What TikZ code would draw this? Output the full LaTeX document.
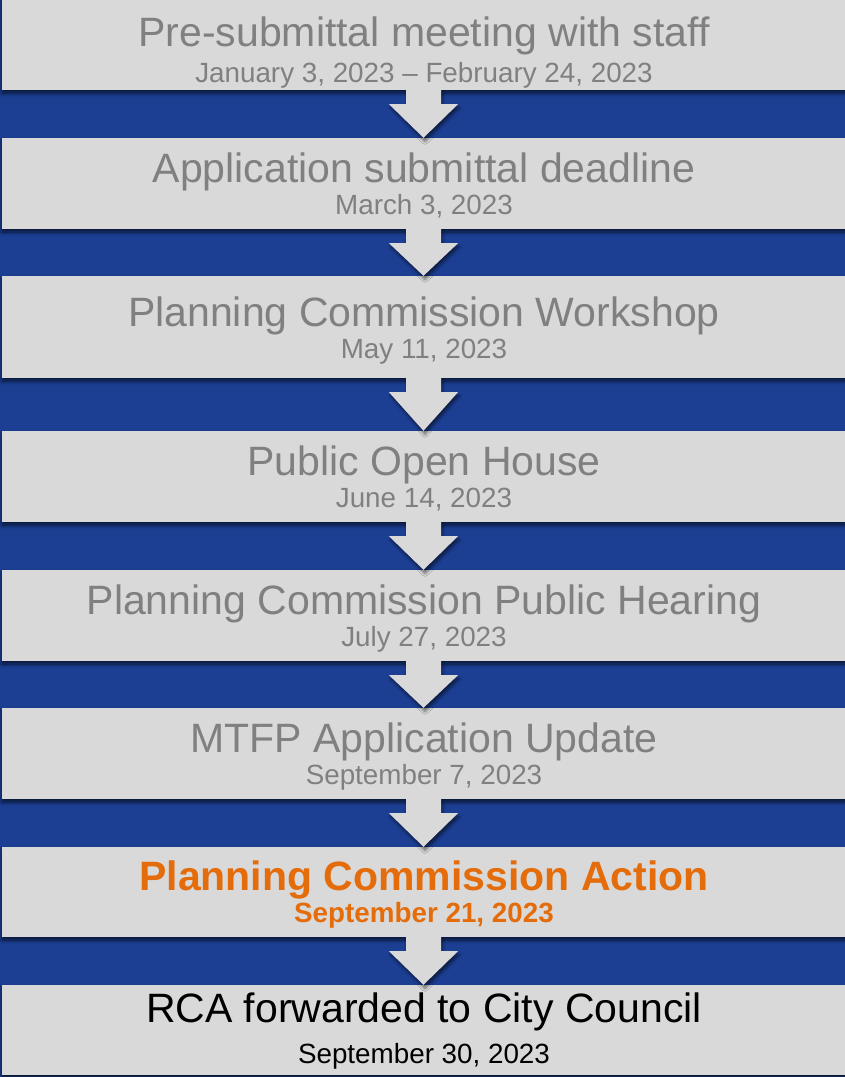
\documentclass[tikz,border=0pt]{standalone}
\usepackage{fontspec}
\setmainfont{Liberation Sans}
\usetikzlibrary{calc,shadows.blur}
\definecolor{bgblue}{RGB}{28,63,148}
\definecolor{boxgrey}{RGB}{217,217,217}
\definecolor{txtgrey}{RGB}{128,128,128}
\definecolor{actorange}{RGB}{228,108,10}
\newcommand{\flowarrow}[2]{%
  \fill[flow] ($(#1.south)+(-18.5,-0.5)$) -- ($(#1.south)+(16.5,-0.5)$) -- ($(#1.south)+(16.5,14)$) -- ($(#1.south)+(33.5,14)$) -- ($(#2.north)+(-1,0)$) -- ($(#1.south)+(-35.5,14)$) -- ($(#1.south)+(-18.5,14)$) -- cycle;}
\begin{document}
\begin{tikzpicture}[x=1pt,y=-1pt,
  stepbox/.style={rectangle, fill=boxgrey, draw=none, minimum width=845pt, inner sep=0pt,
    blur shadow={shadow xshift=0pt, shadow yshift=-3pt, shadow blur radius=4pt, shadow blur steps=6, shadow opacity=70}},
  flow/.style={fill=boxgrey, draw=none,
    blur shadow={shadow xshift=1.5pt, shadow yshift=-3.5pt, shadow blur radius=3pt, shadow blur steps=5, shadow opacity=55}},
  ttl/.style={anchor=base, inner sep=0pt, text=txtgrey, font=\fontsize{41}{41}\selectfont},
  dt/.style={anchor=base, inner sep=0pt, text=txtgrey, font=\fontsize{27.8}{28}\selectfont}]
\useasboundingbox (0,0) rectangle (845,1077);
\fill[bgblue] (0,0) rectangle (845,1077);
\clip (0,0) rectangle (845,1077);
% boxes
\node[stepbox, minimum height=95pt] (b1) at (424.5,42.5) {};
\node[stepbox, minimum height=91pt] (b2) at (424.5,183.5) {};
\node[stepbox, minimum height=102pt] (b3) at (424.5,327) {};
\node[stepbox, minimum height=91pt] (b4) at (424.5,476.5) {};
\node[stepbox, minimum height=91pt] (b5) at (424.5,615.5) {};
\node[stepbox, minimum height=91pt] (b6) at (424.5,753.5) {};
\node[stepbox, minimum height=90pt] (b7) at (424.5,892) {};
\node[stepbox, minimum height=90pt] (b8) at (424.5,1030) {};
% arrows
\flowarrow{b1}{b2}
\flowarrow{b2}{b3}
\flowarrow{b3}{b4}
\flowarrow{b4}{b5}
\flowarrow{b5}{b6}
\flowarrow{b6}{b7}
\flowarrow{b7}{b8}
% texts
\node[ttl] (t1) at (424,46) {Pre-submittal meeting with staff};
\node[dt] (d1) at (424,82) {January 3, 2023 -- February 24, 2023};
\node[ttl] (t2) at (424,182) {Application submittal deadline};
\node[dt] (d2) at (424,214) {March 3, 2023};
\node[ttl] (t3) at (424,326) {Planning Commission Workshop};
\node[dt] (d3) at (424,358) {May 11, 2023};
\node[ttl] (t4) at (424,475) {Public Open House};
\node[dt] (d4) at (424,507) {June 14, 2023};
\node[ttl] (t5) at (424,614) {Planning Commission Public Hearing};
\node[dt] (d5) at (424,646) {July 27, 2023};
\node[ttl] (t6) at (424,752) {MTFP Application Update};
\node[dt] (d6) at (424,784) {September 7, 2023};
\node[ttl, text=actorange, font=\fontsize{41}{41}\selectfont\bfseries] (t7) at (424,890) {Planning Commission Action};
\node[dt, text=actorange, font=\fontsize{27.8}{28}\selectfont\bfseries] (d7) at (424,922) {September 21, 2023};
\node[ttl, text=black] (t8) at (424,1022) {RCA forwarded to City Council};
\node[dt, text=black] (d8) at (424,1063) {September 30, 2023};
\end{tikzpicture}
\end{document}
